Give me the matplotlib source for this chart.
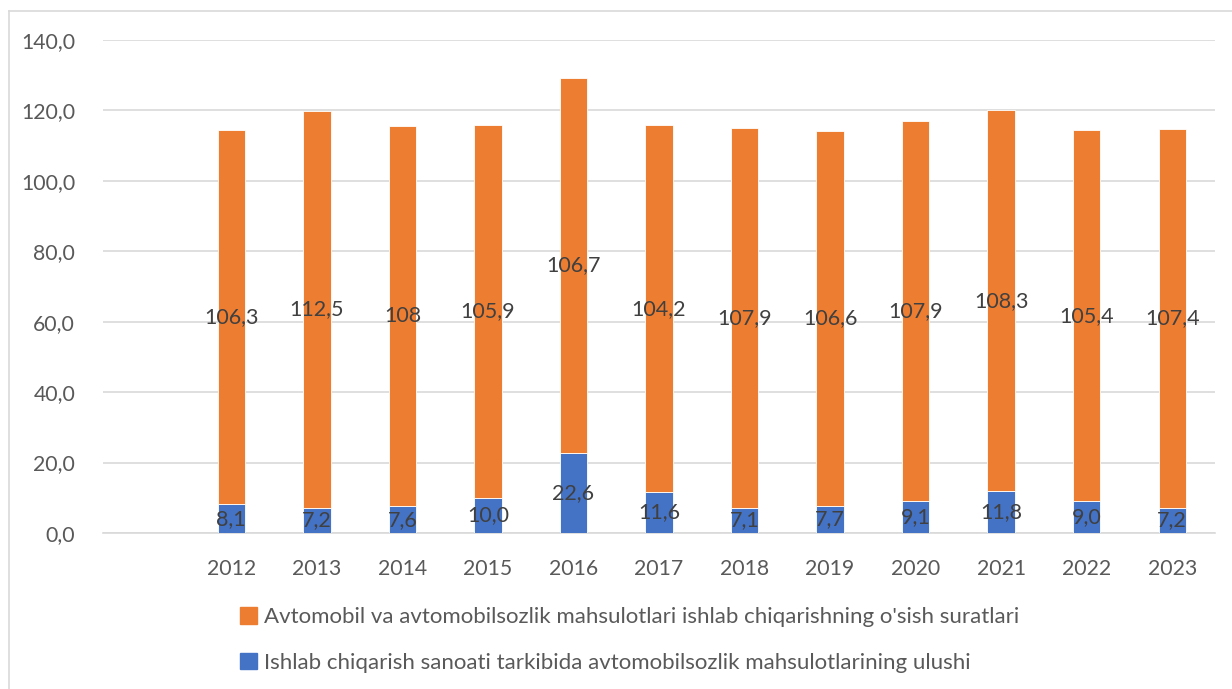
import numpy as np
import matplotlib.pyplot as plt
from matplotlib.patches import Patch

plt.rcParams['font.family'] = ['Lato', 'DejaVu Sans']

# first slot is empty in the original chart
years = ["", "2012", "2013", "2014", "2015", "2016", "2017", "2018", "2019",
         "2020", "2021", "2022", "2023"]
share = [np.nan, 8.1, 7.2, 7.6, 10.0, 22.6, 11.6, 7.1, 7.7, 9.1, 11.8, 9.0, 7.2]
growth = [np.nan, 106.3, 112.5, 108, 105.9, 106.7, 104.2, 107.9, 106.6, 107.9,
          108.3, 105.4, 107.4]

name_growth = "Avtomobil va avtomobilsozlik mahsulotlari ishlab chiqarishning o'sish suratlari"
name_share = "Ishlab chiqarish sanoati tarkibida avtomobilsozlik mahsulotlarining ulushi"

blue = "#4472C4"
orange = "#ED7D31"
txt = "#404040"
tick_c = "#595959"

fig = plt.figure(figsize=(12.32, 6.89), dpi=100)
ax = fig.add_axes([103/1232, 1 - 533/689, (1215-103)/1232, (533-40)/689])

x = np.arange(len(years))
share_arr = np.array(share, dtype=float)
growth_arr = np.array(growth, dtype=float)

ax.bar(x, share_arr, width=0.32, color=blue, edgecolor="white", linewidth=0.6, zorder=3)
ax.bar(x, growth_arr, width=0.32, bottom=share_arr, color=orange,
       edgecolor="white", linewidth=0.6, zorder=3)

for i in range(len(years)):
    if np.isnan(share_arr[i]):
        continue
    ax.text(x[i], share_arr[i] / 2, f"{share_arr[i]:.1f}".replace('.', ','),
            ha="center", va="center", fontsize=15.5, color=txt, zorder=4)
    ax.text(x[i], share_arr[i] + growth_arr[i] / 2,
            f"{growth_arr[i]:g}".replace('.', ','),
            ha="center", va="center", fontsize=15.5, color=txt, zorder=4)

ax.set_xlim(-0.5, len(years) - 0.5)
ax.set_ylim(0, 140)
ax.set_yticks(np.arange(0, 141, 20))
ax.set_yticklabels([f"{v:.1f}".replace('.', ',') for v in np.arange(0, 141, 20)])
ax.set_xticks(x)
ax.set_xticklabels(years)
ax.tick_params(axis="both", length=0, labelsize=15.3, labelcolor=tick_c)
ax.tick_params(axis="x", pad=19)
ax.tick_params(axis="y", pad=20)
ax.grid(axis="y", color="#D9D9D9", linewidth=1.2, zorder=0)
for s in ["top", "right", "left"]:
    ax.spines[s].set_visible(False)
ax.spines["bottom"].set_color("#D9D9D9")
ax.spines["bottom"].set_linewidth(1.2)

handles = [Patch(color=orange), Patch(color=blue)]
fig.legend(handles, [name_growth, name_share], loc="center left",
           bbox_to_anchor=(220/1232, 1 - 640/689), frameon=False, fontsize=16,
           labelcolor=tick_c, handlelength=0.75, handleheight=0.75,
           handletextpad=0.35, labelspacing=1.15)

# outer chart border (only left and top visible in the crop)
fig.add_artist(plt.Line2D([9/1232, 9/1232], [0, 1 - 11/689], color="#D9D9D9",
                          linewidth=1.2, transform=fig.transFigure))
fig.add_artist(plt.Line2D([9/1232, 1], [1 - 11/689, 1 - 11/689], color="#D9D9D9",
                          linewidth=1.2, transform=fig.transFigure))

fig.savefig("out.png", dpi=100)
